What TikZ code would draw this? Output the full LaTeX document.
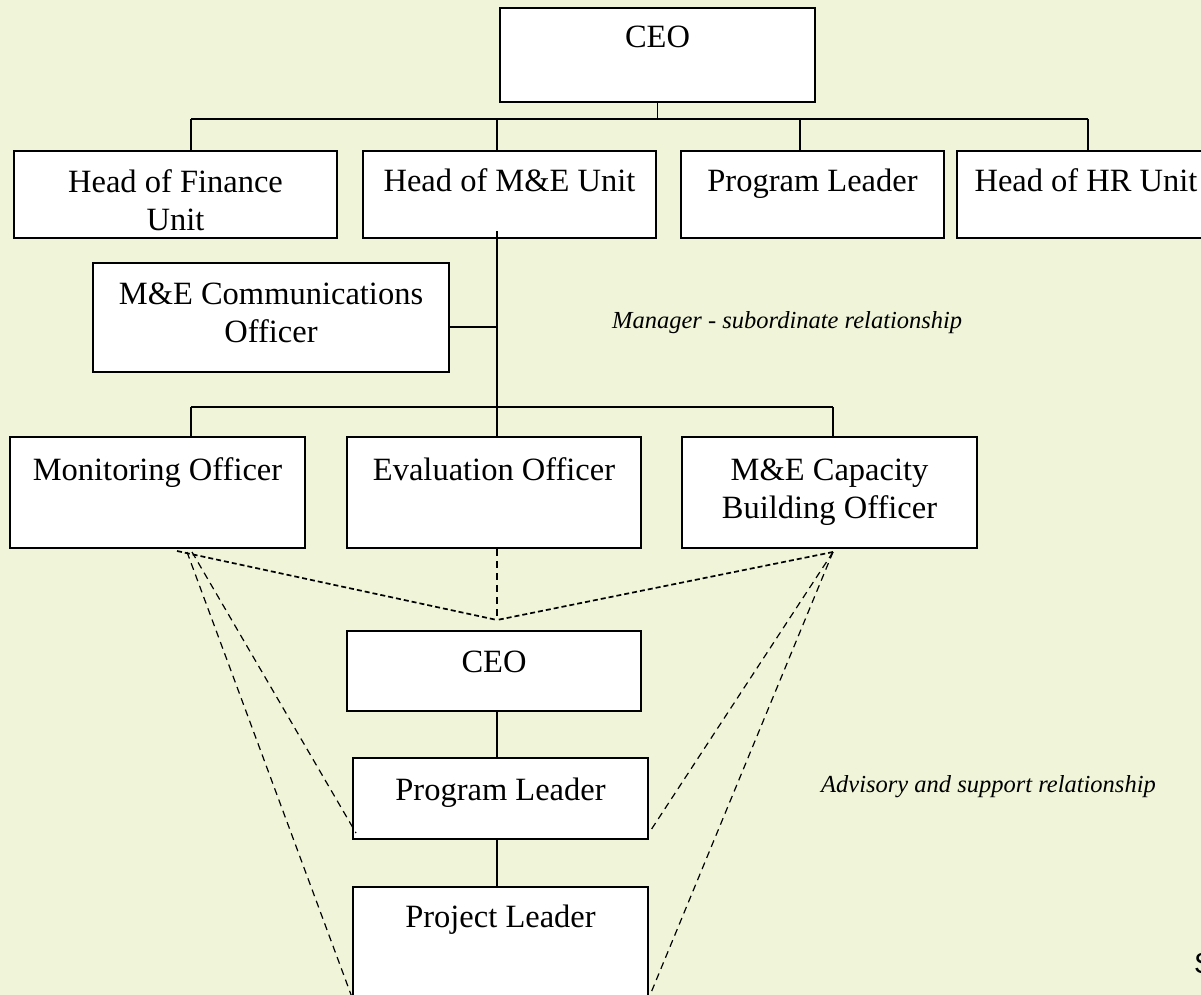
\documentclass[tikz,border=0pt]{standalone}
\usepackage{fontspec}
\setmainfont{Liberation Serif}
\newfontfamily\sansS{Liberation Sans}
\definecolor{paper}{RGB}{240,244,216}
\begin{document}
\begin{tikzpicture}[x=1pt,y=-1pt,
  box/.style={draw=black, fill=white, line width=2.6pt, inner sep=0pt},
  boxtext/.style={anchor=base, align=center, inner sep=0pt,
    font=\fontsize{32.5}{38}\selectfont},
  note/.style={anchor=base west, inner sep=0pt,
    font=\fontsize{24.5}{29}\selectfont\itshape},
  solidlink/.style={draw=black, line width=1.7pt},
  thindash/.style={draw=black, line width=1.2pt, dash pattern=on 7pt off 5pt},
  densedash/.style={draw=black, line width=1.7pt, dash pattern=on 5pt off 3pt}]
% page and background
\useasboundingbox (0,0) rectangle (1201,995);
\fill[paper] (0,0) rectangle (1201,995);

% vertical axis of the M&E branch
\coordinate (axis) at (497,0);

% ---- junction points of the upper chart
\coordinate (b1L) at (191,119);
\coordinate (b1a) at (497,119);
\coordinate (b1b) at (800,119);
\coordinate (b1R) at (1088,119);
\coordinate (b2L) at (191,407);
\coordinate (b2R) at (833,407);
\coordinate (spineTop) at (497,231);
\coordinate (tie) at (497,327);

% ---- boxes
\node[box, minimum width=315, minimum height=94] (ceo1) at (657.5,55) {};
\node[box, minimum width=323, minimum height=87] (fin) at (175.5,194.5) {};
\node[box, minimum width=293, minimum height=87] (hme) at (509.5,194.5) {};
\node[box, minimum width=263, minimum height=87] (pl1) at (812.5,194.5) {};
\node[box, minimum width=258, minimum height=87] (hr) at (1086,194.5) {};
\node[box, minimum width=356, minimum height=109] (comm) at (271,317.5) {};
\node[box, minimum width=295, minimum height=111] (mon) at (157.5,492.5) {};
\node[box, minimum width=294, minimum height=111] (eva) at (494,492.5) {};
\node[box, minimum width=295, minimum height=111] (cap) at (829.5,492.5) {};
\node[box, minimum width=294, minimum height=80] (ceo2) at (494,671) {};
\node[box, minimum width=295, minimum height=81] (pl2) at (500.5,798.5) {};
\node[box, minimum width=295, minimum height=133] (prj) at (500.5,953.5) {};

% ---- box texts (a two-line text sits on the baseline of its last line)
\node[boxtext] (tCeo1) at (657.5,48) {CEO};
\node[boxtext] (tFin) at (175.5,230) {Head of Finance\\Unit};
\node[boxtext] (tHme) at (509.5,192) {Head of M\&E Unit};
\node[boxtext] (tPl1) at (812.5,192) {Program Leader};
\node[boxtext] (tHr) at (1086,192) {Head of HR Unit};
\node[boxtext] (tComm) at (271,342) {M\&E Communications\\Officer};
\node[boxtext] (tMon) at (157.5,480) {Monitoring Officer};
\node[boxtext] (tEva) at (494,480) {Evaluation Officer};
\node[boxtext] (tCap) at (829.5,518) {M\&E Capacity\\Building Officer};
\node[boxtext] (tCeo2) at (494,672) {CEO};
\node[boxtext] (tPl2) at (500.5,800) {Program Leader};
\node[boxtext] (tPrj) at (500.5,927) {Project Leader};

% ---- manager - subordinate links
\draw[solidlink] (ceo1.south) -- (ceo1.south |- b1L);
\draw[solidlink] (b1L) -- (b1R);
\draw[solidlink] (b1L) -- (b1L |- fin.north);
\draw[solidlink] (b1a) -- (b1a |- hme.north);
\draw[solidlink] (b1b) -- (b1b |- pl1.north);
\draw[solidlink] (b1R) -- (b1R |- hr.north);
\draw[solidlink] (spineTop) -- (axis |- eva.north);
\draw[solidlink] (tie -| comm.east) -- (tie);
\draw[solidlink] (b2L) -- (b2R);
\draw[solidlink] (b2L) -- (b2L |- mon.north);
\draw[solidlink] (b2R) -- (b2R |- cap.north);
\draw[solidlink] (axis |- ceo2.south) -- (axis |- pl2.north);
\draw[solidlink] (axis |- pl2.south) -- (axis |- prj.north);

% ---- advisory and support links
\coordinate (apex) at (497,620);
\coordinate (monC) at (177,551);
\coordinate (monA) at (192,552);
\coordinate (monB) at (187,552);
\coordinate (capC) at (833,552);
\coordinate (plL) at (356,833);
\coordinate (plR) at (649,833);
\coordinate (prjL) at (353,1000);
\coordinate (prjR) at (648,1000);
\draw[thindash] (axis |- eva.south) -- (apex);
\draw[densedash] (monC) -- (apex);
\draw[densedash] (capC) -- (apex);
\draw[thindash] (monA) -- (plL);
\draw[thindash] (monB) -- (prjL);
\draw[thindash] (capC) -- (plR);
\draw[thindash] (capC) -- (prjR);

% ---- relationship notes
\node[note] (nMgr) at (612,328) {Manager - subordinate relationship};
\node[note] (nAdv) at (821,792) {Advisory and support relationship};
\node[anchor=base west, inner sep=0pt, font=\sansS\fontsize{29}{34}\selectfont] (edgeS) at (1194,973) {S};
\end{tikzpicture}
\end{document}
